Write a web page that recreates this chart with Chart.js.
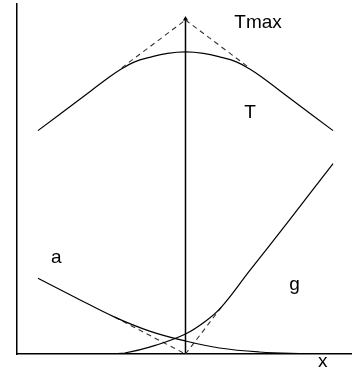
<!DOCTYPE html>
<html>
<head>
<meta charset="utf-8">
<script src="https://cdn.jsdelivr.net/npm/chart.js@4.4.1/dist/chart.umd.min.js"></script>
<style>
    html, body { margin: 0; padding: 0; background: #fff; }
    #wrap { width: 355px; height: 372px; position: relative; }
</style>
</head>
<body>
<div id="wrap"><canvas id="chart"></canvas></div>
<script>
// ===== DATA (x, y measured from the axes corner) =====
const tX = [21, 63, 93, 105, 118, 133, 151, 169, 187, 205, 220, 233, 245, 275, 317];
const tY = [224, 255.5, 278, 286, 293, 297.5, 301.5, 303, 301.5, 297.5, 293, 286, 278, 255.5, 224];

const aX = [21, 60, 98, 133, 169, 203, 243, 283, 323];
const aY = [76, 56, 37, 23, 13, 6, 2, 0.5, 0];

const gX = [83, 108, 140, 169, 188, 205, 233, 273, 317];
const gY = [0, 1, 9, 20, 32, 47, 83, 134, 191];

// tangent lines (dashed)
const tLeftX = [105, 169], tLeftY = [287, 335];
const tRightX = [169, 233], tRightY = [335, 287];
const aTanX = [98, 169], aTanY = [37, 0];
const gTanX = [169, 205], gTanY = [0, 47];

// middle vertical arrow
const midX = [169, 169], midY = [0, 336];

const textLabels = [
    { text: 'Tmax', x: 218, y: 327 },
    { text: 'T', x: 228, y: 237 },
    { text: 'a', x: 34, y: 91 },
    { text: 'g', x: 273, y: 64 },
    { text: 'x', x: 302, y: -13 }
];

function pts(xs, ys) {
    return xs.map((x, i) => ({ x: x, y: ys[i] }));
}

function curve(xs, ys) {
    return {
        data: pts(xs, ys),
        borderColor: '#000',
        borderWidth: 1.2,
        pointRadius: 0,
        tension: 0.4,
        fill: false
    };
}

function dashed(xs, ys) {
    return {
        data: pts(xs, ys),
        borderColor: '#333',
        borderWidth: 1.1,
        borderDash: [5, 4],
        pointRadius: 0,
        fill: false
    };
}

// draws the letters next to the curves
const labelPlugin = {
    id: 'curveLabels',
    afterDatasetsDraw(chart) {
        const ctx = chart.ctx;
        const xs = chart.scales.x, ys = chart.scales.y;
        ctx.save();
        ctx.fillStyle = '#000';
        ctx.font = '19px "Liberation Sans", Arial, sans-serif';
        ctx.textAlign = 'left';
        ctx.textBaseline = 'alphabetic';
        textLabels.forEach(l => {
            ctx.fillText(l.text, xs.getPixelForValue(l.x), ys.getPixelForValue(l.y));
        });
        ctx.restore();
    }
};

new Chart(document.getElementById('chart'), {
    type: 'line',
    data: {
        datasets: [
            curve(tX, tY),
            curve(aX, aY),
            curve(gX, gY),
            dashed(tLeftX, tLeftY),
            dashed(tRightX, tRightY),
            dashed(aTanX, aTanY),
            dashed(gTanX, gTanY),
            {
                data: pts(midX, midY),
                borderColor: '#000',
                borderWidth: 1.5,
                pointRadius: [0, 3],
                pointStyle: 'triangle',
                pointBackgroundColor: '#000',
                pointBorderWidth: 0,
                fill: false
            }
        ]
    },
    options: {
        responsive: true,
        maintainAspectRatio: false,
        animation: false,
        layout: { padding: { left: 17, top: 3, right: 3, bottom: 18 } },
        plugins: {
            legend: { display: false },
            tooltip: { enabled: false }
        },
        scales: {
            x: {
                type: 'linear',
                min: 0,
                max: 335,
                grid: { display: false, drawTicks: false },
                ticks: { display: false },
                border: { display: true, color: '#000', width: 1.5 }
            },
            y: {
                type: 'linear',
                min: 0,
                max: 351,
                grid: { display: false, drawTicks: false },
                ticks: { display: false },
                border: { display: true, color: '#000', width: 1.5 }
            }
        }
    },
    plugins: [labelPlugin]
});
</script>
</body>
</html>
